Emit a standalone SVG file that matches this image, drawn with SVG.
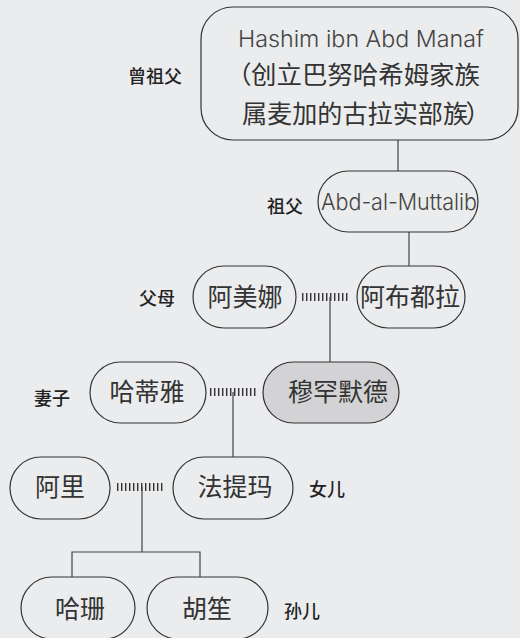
<svg xmlns="http://www.w3.org/2000/svg" width="520" height="638" viewBox="0 0 520 638">
<style>
.bg{fill:#ebecee}
.node{fill:none;stroke:#333;stroke-width:1.2}
.me{fill:#d3d3d5;stroke:#333;stroke-width:1.2}
.t{font-family:"Noto Sans CJK SC","Noto Sans",sans-serif;font-size:25px;fill:#333;text-anchor:middle}
.ts{font-family:"Noto Sans CJK SC","Noto Sans",sans-serif;font-size:25px;fill:#333;text-anchor:start}
.lat{font-family:Inter,"Liberation Sans","DejaVu Sans",sans-serif;font-size:23px;fill:#444;text-anchor:middle;font-weight:300}
.lab{font-family:"Noto Sans CJK SC","Noto Sans",sans-serif;font-size:18px;fill:#222;text-anchor:middle;font-weight:500}
.ln{stroke:#444;stroke-width:1.2;fill:none}
.mar{stroke:#333;stroke-width:8;stroke-dasharray:1.4 2.6;fill:none}
</style>
<rect class="bg" x="0" y="0" width="520" height="638"/>
<g id="connectors">
<line class="ln" x1="398" y1="140" x2="398" y2="171"/>
<line class="ln" x1="409" y1="232" x2="409" y2="266"/>
<line class="mar" x1="302" y1="297" x2="349" y2="297"/>
<line class="ln" x1="330" y1="297" x2="330" y2="362"/>
<line class="mar" x1="210" y1="392" x2="258" y2="392"/>
<line class="ln" x1="233" y1="392" x2="233" y2="457"/>
<line class="mar" x1="117" y1="487" x2="165" y2="487"/>
<polyline class="ln" points="142,487 142,552"/>
<polyline class="ln" points="72,577 72,552 200,552 200,577"/>
</g>
<g id="labels">
<text class="lab" x="155" y="83">曾祖父</text>
<text class="lab" x="285" y="213">祖父</text>
<text class="lab" x="157" y="305">父母</text>
<text class="lab" x="52" y="405">妻子</text>
<text class="lab" x="327" y="496">女儿</text>
<text class="lab" x="302" y="618">孙儿</text>
</g>
<g id="hashim">
<rect class="node" x="201" y="7" width="317" height="133" rx="32"/>
<text class="lat" x="361" y="47" textLength="246" lengthAdjust="spacingAndGlyphs">Hashim ibn Abd Manaf</text>
<text class="t" x="239" y="84">（</text>
<text class="ts" x="251" y="84" textLength="229" lengthAdjust="spacingAndGlyphs">创立巴努哈希姆家族</text>
<text class="ts" x="242" y="123" textLength="226" lengthAdjust="spacingAndGlyphs">属麦加的古拉实部族</text>
<text class="t" x="478" y="123">）</text>
</g>
<g id="abdalmuttalib">
<rect class="node" x="318" y="171" width="160" height="61" rx="30.5"/>
<text class="lat" x="399" y="210" textLength="156" lengthAdjust="spacingAndGlyphs">Abd-al-Muttalib</text>
</g>
<g id="amina">
<rect class="node" x="193" y="266" width="103" height="62" rx="31"/>
<text class="t" x="245" y="306">阿美娜</text>
</g>
<g id="abdullah">
<rect class="node" x="357" y="266" width="108" height="62" rx="31"/>
<text class="t" x="410" y="306">阿布都拉</text>
</g>
<g id="khadija">
<rect class="node" x="90" y="362" width="116" height="61" rx="30.5"/>
<text class="t" x="147" y="401">哈蒂雅</text>
</g>
<g id="muhammad">
<rect class="me" x="263" y="362" width="136" height="61" rx="30.5"/>
<text class="t" x="338" y="401">穆罕默德</text>
</g>
<g id="ali">
<rect class="node" x="10" y="457" width="100" height="62" rx="31"/>
<text class="t" x="60" y="496">阿里</text>
</g>
<g id="fatima">
<rect class="node" x="173" y="457" width="120" height="62" rx="31"/>
<text class="t" x="235" y="496">法提玛</text>
</g>
<g id="hasan">
<rect class="node" x="21" y="577" width="114" height="62" rx="31"/>
<text class="t" x="80" y="618">哈珊</text>
</g>
<g id="husayn">
<rect class="node" x="147" y="577" width="121" height="62" rx="31"/>
<text class="t" x="207" y="618">胡笙</text>
</g>
</svg>
